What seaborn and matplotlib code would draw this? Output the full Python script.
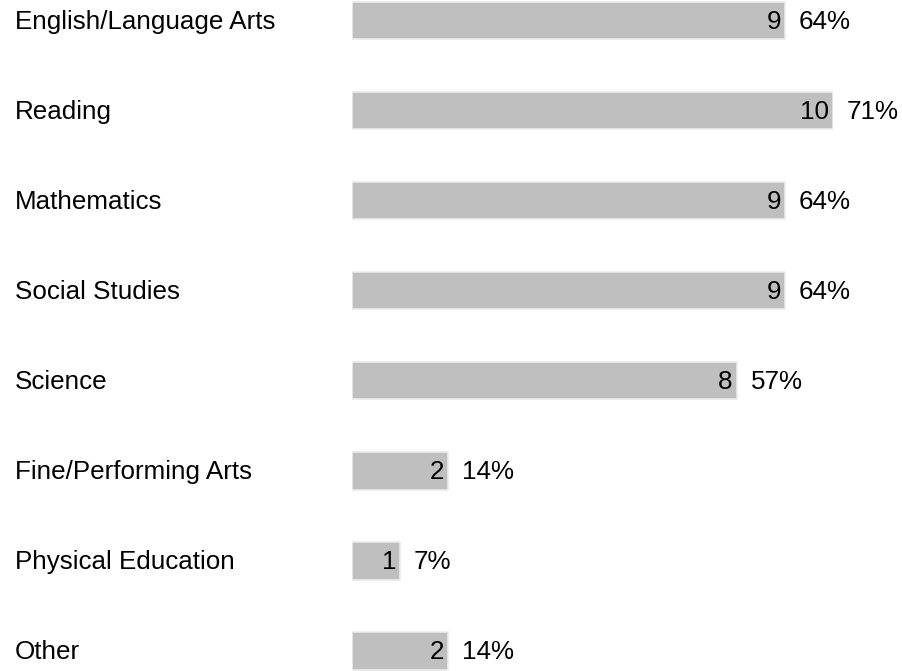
import matplotlib
matplotlib.use("Agg")
import matplotlib.pyplot as plt
import seaborn as sns
import pandas as pd
import matplotlib.transforms as mtransforms

categories = ["English/Language Arts", "Reading", "Mathematics", "Social Studies",
              "Science", "Fine/Performing Arts", "Physical Education", "Other"]
counts = [9, 10, 9, 9, 8, 2, 1, 2]
percents = ["64%", "71%", "64%", "64%", "57%", "14%", "7%", "14%"]

df = pd.DataFrame({"category": categories, "count": counts})

sns.set_theme(style="white")
plt.rcParams["font.family"] = ["Liberation Sans", "DejaVu Sans"]

W, H = 903, 671
fig = plt.figure(figsize=(W / 100, H / 100), dpi=100)
left_px, right_px = 352, 833
ax = fig.add_axes([left_px / W, 0, (right_px - left_px) / W, 1])

sns.barplot(data=df, y="category", x="count", orient="h", color="#bfbfbf",
            width=0.415, edgecolor="#ebebeb", linewidth=1.2, saturation=1, ax=ax)

ax.set_xlim(0, 10)
spacing = 90.07
top_c = 20.5
ax.set_ylim(7 + (H - top_c - 7 * spacing) / spacing, -top_c / spacing)
ax.set_xlabel("")
ax.set_ylabel("")
ax.set_xticks([])
ax.set_yticks([])
for s in ax.spines.values():
    s.set_visible(False)
ax.patch.set_alpha(0)

fs = 18.7
trans_lab = mtransforms.blended_transform_factory(fig.transFigure, ax.transData)
px = 72 / 100
dy = -1.5 * px
for i, (c, v, p) in enumerate(zip(categories, counts, percents)):
    ax.annotate(c, xy=(15 / W, i), xycoords=trans_lab, xytext=(0, dy), textcoords="offset points",
                ha="left", va="center", fontsize=fs, color="#000000")
    ax.annotate(str(v), xy=(v, i), xytext=(-4 * px, dy), textcoords="offset points",
                ha="right", va="center", fontsize=fs, color="#000000")
    ax.annotate(p, xy=(v, i), xytext=(14 * px, dy), textcoords="offset points",
                ha="left", va="center", fontsize=fs, color="#000000")

fig.savefig("out.png", dpi=100, facecolor="white")
